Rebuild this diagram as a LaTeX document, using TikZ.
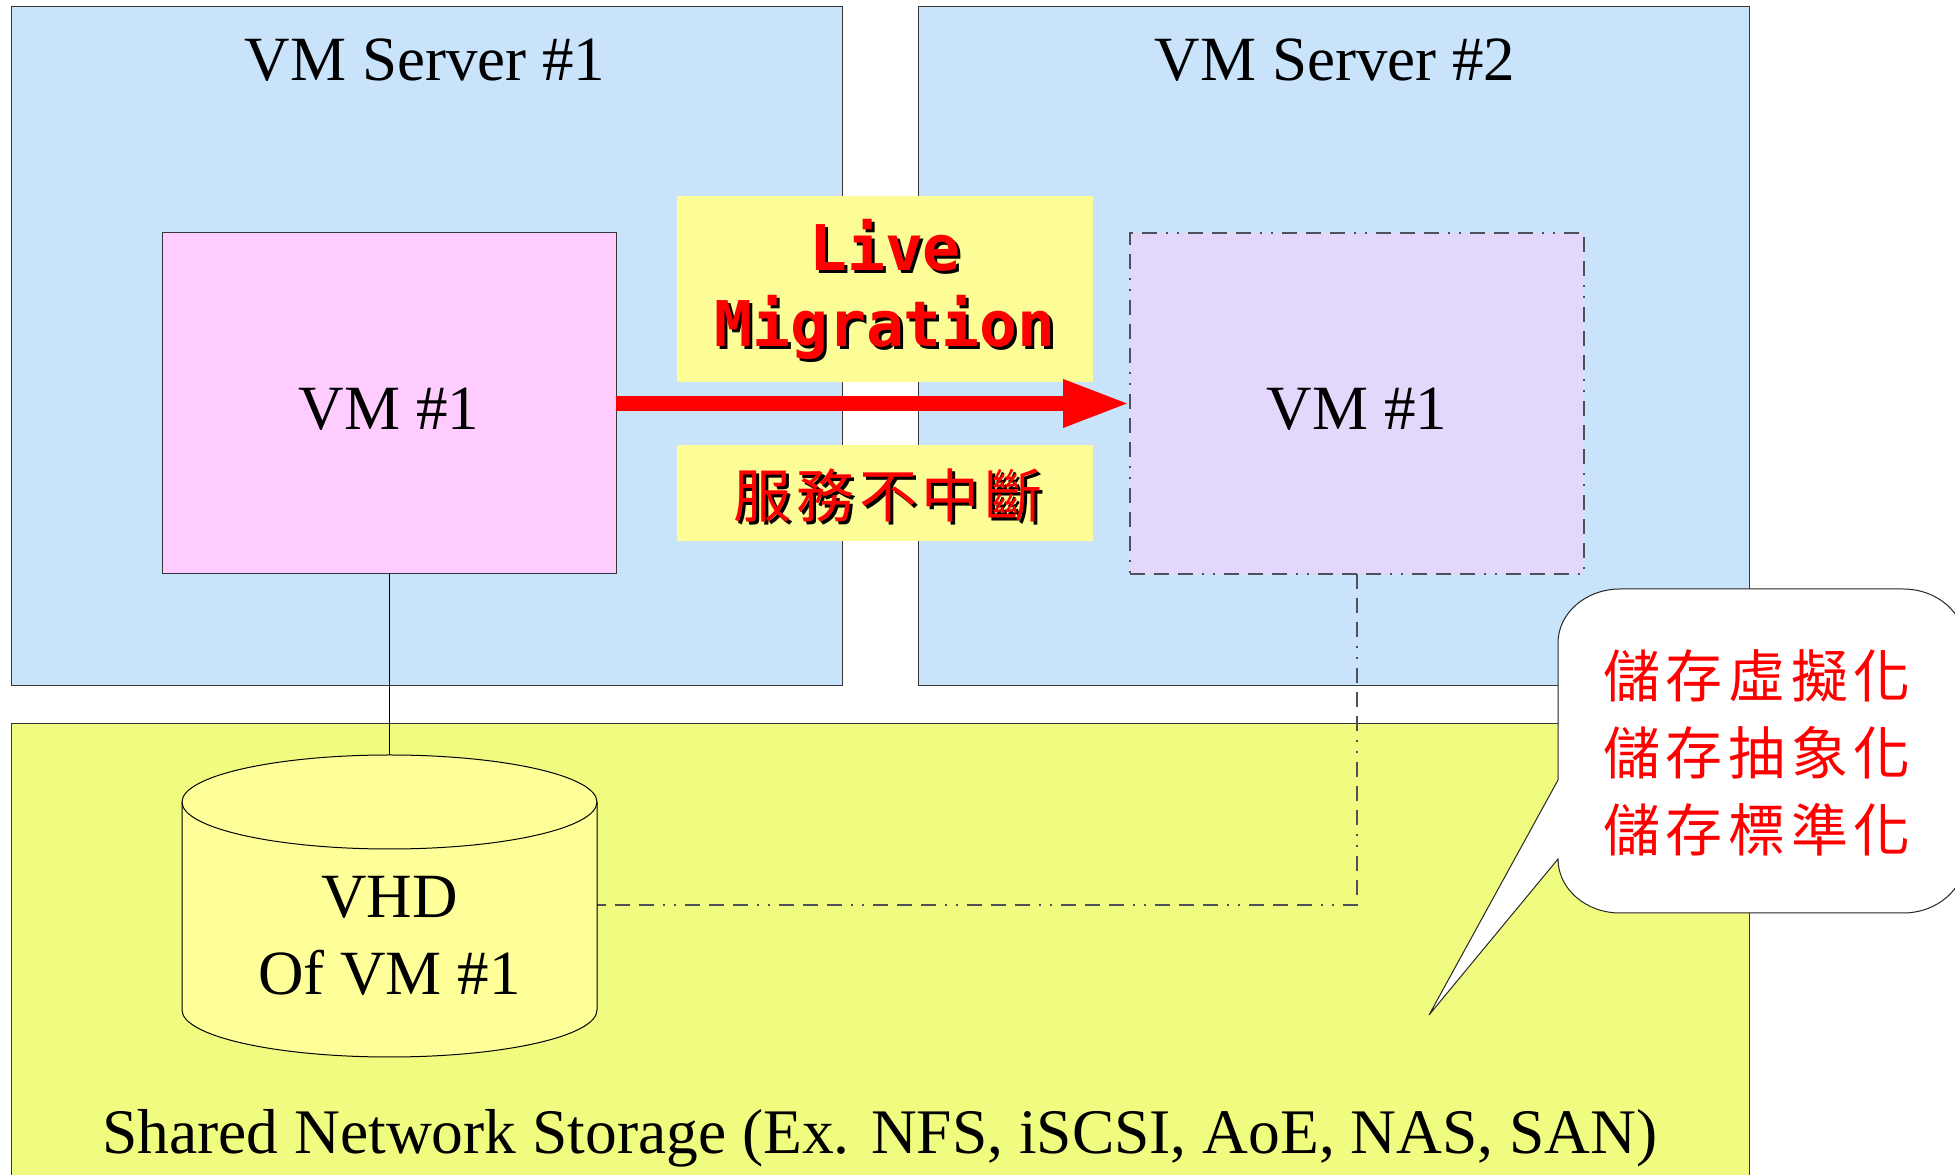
\documentclass[tikz,border=0pt]{standalone}
\usepackage{fontspec}
\setmainfont{Liberation Serif}
\newfontfamily\livefont{DejaVu Sans Mono}
\newfontfamily\cjkfont{Noto Sans CJK TC}[LetterSpace=8]
\newfontfamily\cjkcallout{Noto Sans CJK TC}[LetterSpace=10]
\usetikzlibrary{arrows.meta}
\definecolor{serverblue}{RGB}{201,227,251}
\definecolor{storagegreen}{RGB}{240,252,128}
\definecolor{cylyellow}{RGB}{255,255,153}
\definecolor{labelyellow}{RGB}{253,253,152}
\definecolor{vmpink}{RGB}{255,204,255}
\definecolor{vmlav}{RGB}{227,215,252}
\definecolor{edgegray}{RGB}{55,55,55}
\definecolor{dashgray}{RGB}{80,80,92}
\definecolor{textred}{RGB}{255,0,0}
\begin{document}
\begin{tikzpicture}[x=1pt,y=1pt,
  box/.style={draw=edgegray,line width=1pt,inner sep=0pt,outer sep=0pt},
  server/.style={box,fill=serverblue,minimum width=831pt,minimum height=679pt},
  storage/.style={box,fill=storagegreen,minimum width=1738pt,minimum height=466pt},
  vmbox/.style={box,minimum width=454pt,minimum height=341pt},
  labelbox/.style={fill=labelyellow,inner sep=0pt,minimum width=416pt},
  bigtext/.style={font=\fontsize{63}{77}\selectfont,inner sep=0pt,anchor=base},
  livetext/.style={font=\fontsize{63}{75}\livefont\bfseries,inner sep=0pt,anchor=base},
  cjktext/.style={font=\fontsize{58}{77}\cjkfont,inner sep=0pt},
  dashdotdot/.style={draw=dashgray,line width=1.2pt,dash pattern=on 15pt off 9pt on 15pt off 9pt on 15pt off 9pt on 2pt off 9pt on 2pt off 9pt},
  connector/.style={draw=black,line width=1pt},
  migr/.style={draw=textred,line width=15pt,-{Triangle[length=67pt,width=44pt]}}
]
\useasboundingbox (0,0) rectangle (1955,1175);

% servers and storage
\node[server] (srv1) at (427,828.5) {};
\node[server] (srv2) at (1334,828.5) {};
\node[storage] (stor) at (880,218) {};

\node[bigtext] (srv1title) at (425,1094) {VM Server \#1};
\node[bigtext] (srv2title) at (1335,1094) {VM Server \#2};

% VM boxes
\node[vmbox,fill=vmpink] (vm1) at (389,771.5) {};
\node[vmbox,fill=vmlav,dashdotdot] (vm2) at (1357,771.5) {};
\node[bigtext] (vm1text) at (389,745) {VM \#1};
\node[bigtext] (vm2text) at (1357,745) {VM \#1};

% labels
\node[labelbox,minimum height=186pt] (livebox) at (885,886) {};
\node[labelbox,minimum height=96pt] (svcbox) at (885,682) {};
\node[livetext,black] (liveshadow) at (888,901) {Live};
\node[livetext,textred] (live) at (885,904) {Live};
\node[livetext,black] (migshadow) at (888,825) {Migration};
\node[livetext,textred] (mig) at (885,828) {Migration};
\node[cjktext,black] (svcshadow) at (891,677) {服務不中斷};
\node[cjktext,textred] (svc) at (888,680) {服務不中斷};

% migration arrow
\draw[migr] (vm1.east) -- (vm2.west);

% cylinder
\coordinate (cyltop) at (389.5,420);
\coordinate (cylright) at (597,270);
\draw[connector] (vm1.south) -- (vm1.south |- cyltop);
\draw[dashdotdot] (vm2.south) |- (cylright);
\filldraw[fill=cylyellow,draw=black,line width=1pt] (182,373) -- (182,165)
  arc[start angle=180,end angle=360,x radius=207.5,y radius=47] -- (597,373)
  arc[start angle=0,end angle=180,x radius=207.5,y radius=47] -- cycle;
\draw[line width=1pt] (182,373) arc[start angle=180,end angle=360,x radius=207.5,y radius=47];
\node[font=\fontsize{63}{77}\selectfont,align=center,inner sep=0pt] (vhd) at (389.5,239.5) {VHD\\Of VM \#1};

\node[bigtext,font=\fontsize{63.5}{77}\selectfont] (stortext) at (880,21) {Shared Network Storage (Ex. NFS, iSCSI, AoE, NAS, SAN)};

% callout
\filldraw[fill=white,draw=black!85,line width=1pt] (1558,395) -- (1558,532)
  arc[start angle=180,end angle=90,x radius=62,y radius=54] -- (1903,586)
  arc[start angle=90,end angle=0,x radius=62,y radius=54] -- (1965,316)
  arc[start angle=0,end angle=-90,x radius=62,y radius=54] -- (1620,262)
  arc[start angle=270,end angle=180,x radius=62,y radius=54] -- (1429,160) -- cycle;
\node[font=\fontsize{57}{77}\cjkcallout,text=textred,align=center,inner sep=0pt] (callout) at (1757,422) {儲存虛擬化\\儲存抽象化\\儲存標準化};
\end{tikzpicture}
\end{document}
